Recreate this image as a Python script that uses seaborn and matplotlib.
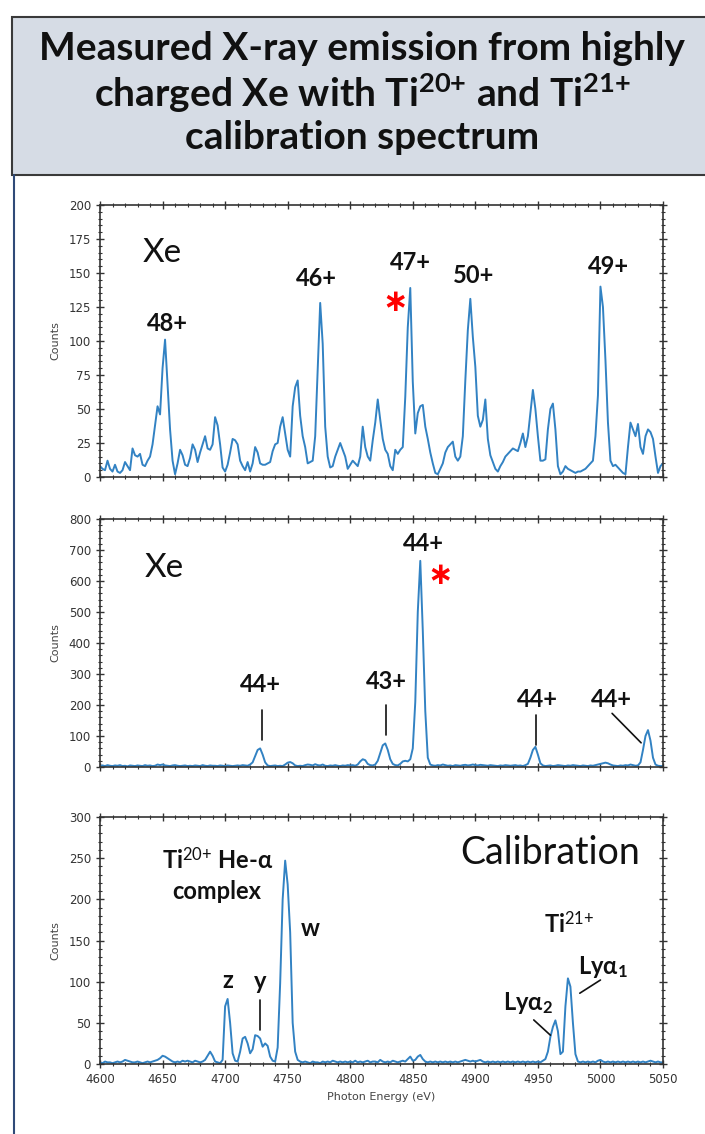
import numpy as np
import pandas as pd
import matplotlib
matplotlib.use("Agg")
import matplotlib.pyplot as plt
import seaborn as sns
from matplotlib.ticker import MultipleLocator
from matplotlib.patches import Rectangle
from matplotlib.lines import Line2D

# ---------------- data (counts per 2 eV bin, 4600..5050 eV) ----------------
energy = np.arange(4600, 5051, 2)

xe_high = [
    8, 6, 5, 12, 6, 4, 9, 4, 3, 5, 11, 8, 5, 21, 16, 15, 17, 9, 8, 12, 15, 24, 38, 52, 46,
    80, 101, 68, 35, 12, 2, 10, 20, 16, 9, 8, 14, 24, 20, 11, 18, 24, 30, 21, 20, 24, 44, 38, 24, 7,
    4, 9, 18, 28, 27, 24, 12, 8, 5, 11, 4, 10, 22, 18, 10, 9, 9, 10, 11, 19, 24, 25, 37, 44, 32,
    20, 15, 52, 66, 71, 45, 30, 22, 10, 11, 12, 30, 80, 128, 98, 37, 15, 7, 8, 15, 20, 25, 20, 15, 6,
    9, 12, 10, 8, 15, 37, 22, 15, 12, 27, 40, 57, 42, 28, 20, 17, 8, 5, 20, 17, 20, 22, 59, 110, 139,
    70, 32, 47, 52, 53, 37, 28, 18, 10, 3, 2, 6, 10, 18, 22, 24, 26, 15, 12, 15, 30, 71, 108, 131, 103,
    81, 45, 37, 42, 57, 28, 16, 11, 6, 4, 8, 11, 15, 17, 19, 21, 20, 19, 25, 32, 22, 30, 47, 64, 50,
    30, 12, 12, 13, 35, 50, 54, 35, 8, 2, 4, 8, 6, 5, 4, 3, 4, 4, 5, 6, 8, 10, 12, 30, 60,
    140, 125, 86, 40, 12, 8, 9, 7, 5, 3, 2, 22, 40, 35, 30, 39, 22, 17, 30, 35, 33, 28, 15, 3, 8,
    10,
]

xe_low = [
    4, 5, 3, 6, 4, 3, 5, 4, 6, 3, 4, 2, 5, 4, 3, 5, 4, 3, 6, 4, 5, 3, 4, 8, 6,
    8, 5, 4, 3, 5, 6, 4, 3, 4, 5, 3, 4, 3, 5, 4, 3, 6, 4, 3, 5, 4, 4, 3, 5, 4,
    3, 5, 4, 3, 4, 5, 4, 6, 5, 4, 8, 15, 35, 55, 60, 40, 15, 5, 3, 4, 5, 3, 4, 3, 8,
    14, 16, 12, 5, 3, 4, 3, 6, 8, 7, 5, 9, 6, 5, 8, 4, 3, 5, 4, 6, 4, 3, 5, 4, 6,
    5, 6, 4, 8, 18, 25, 22, 10, 6, 5, 8, 20, 45, 70, 76, 55, 25, 10, 6, 5, 10, 18, 20, 18, 25,
    60, 210, 500, 665, 440, 180, 30, 8, 5, 4, 6, 5, 8, 6, 4, 5, 3, 6, 5, 4, 6, 7, 5, 6, 8,
    6, 5, 7, 6, 5, 4, 6, 5, 4, 3, 5, 4, 6, 5, 4, 5, 6, 4, 5, 3, 6, 10, 30, 55, 65,
    40, 12, 5, 3, 4, 5, 3, 4, 6, 5, 4, 3, 5, 4, 6, 5, 4, 3, 5, 4, 3, 5, 4, 6, 8,
    10, 12, 14, 12, 8, 5, 4, 3, 5, 4, 6, 5, 8, 6, 4, 5, 15, 55, 100, 119, 85, 30, 8, 4, 3,
    3,
]

ti_cal = [
    2, 1, 3, 2, 2, 1, 2, 3, 2, 3, 5, 4, 3, 2, 2, 3, 2, 1, 2, 3, 2, 3, 4, 5, 7,
    10, 9, 7, 5, 3, 2, 3, 2, 4, 3, 4, 3, 2, 4, 3, 2, 3, 5, 10, 15, 10, 3, 2, 1, 5,
    70, 79, 50, 13, 4, 3, 15, 31, 33, 25, 13, 18, 35, 34, 31, 21, 25, 22, 9, 4, 3, 20, 98, 200, 247,
    218, 160, 50, 15, 5, 3, 2, 3, 2, 1, 3, 2, 2, 1, 3, 2, 3, 2, 4, 3, 2, 3, 2, 3, 2,
    3, 2, 4, 2, 3, 2, 3, 4, 2, 3, 3, 2, 5, 3, 2, 3, 2, 4, 3, 2, 3, 4, 3, 6, 9,
    4, 5, 9, 11, 6, 3, 2, 3, 2, 3, 2, 3, 2, 3, 2, 3, 2, 3, 2, 3, 4, 5, 4, 3, 4,
    3, 4, 5, 3, 2, 3, 2, 3, 2, 3, 2, 3, 2, 3, 2, 3, 2, 3, 2, 3, 2, 3, 2, 3, 2,
    3, 2, 4, 6, 15, 33, 45, 53, 40, 12, 15, 70, 104, 94, 50, 12, 3, 2, 3, 2, 3, 2, 3, 2, 4,
    5, 3, 2, 3, 2, 3, 2, 3, 2, 3, 2, 3, 2, 3, 2, 3, 2, 3, 2, 3, 4, 3, 2, 3, 2,
    2,
]

x_ticks = [4600, 4650, 4700, 4750, 4800, 4850, 4900, 4950, 5000, 5050]

# ---------------- style ----------------
sns.set_theme(style="ticks")
TXT = ["Lato", "DejaVu Sans"]
plt.rcParams["font.family"] = ["DejaVu Sans"]
plt.rcParams["mathtext.fontset"] = "custom"
plt.rcParams["mathtext.rm"] = "Lato"
plt.rcParams["mathtext.bf"] = "Lato:bold"
plt.rcParams["mathtext.it"] = "Lato:italic"

W, H = 705, 1134
fig = plt.figure(figsize=(W / 100, H / 100), dpi=100)
fig.patch.set_facecolor("white")

def fx(px):
    return px / W

def fy(py):
    return 1 - py / H

# title box
fig.patches.append(Rectangle((fx(12), fy(175)), 1.0, fy(17) - fy(175), transform=fig.transFigure,
                             facecolor="#d6dce5", edgecolor="#3a3a3a", linewidth=1.5, zorder=0))
fig.lines.append(Line2D([fx(14), fx(14)], [0, fy(175)], transform=fig.transFigure,
                        color="#2f4a78", linewidth=1.5))
fig.text(0.514, fy(93),
         "Measured X-ray emission from highly\ncharged Xe with Ti$^{\\mathbf{20{+}}}$ and Ti$^{\\mathbf{21{+}}}$\ncalibration spectrum",
         ha="center", va="center", fontsize=28, fontweight="bold", family=TXT, linespacing=1.17,
         color="#111111")

left, width = fx(100), fx(663) - fx(100)
ax1 = fig.add_axes([left, fy(477), width, fy(205) - fy(477)])
ax2 = fig.add_axes([left, fy(767), width, fy(519) - fy(767)])
ax3 = fig.add_axes([left, fy(1064), width, fy(817) - fy(1064)])

line_color = "#3282c3"
panels = [(ax1, xe_high, 200, 25, 5), (ax2, xe_low, 800, 100, 20), (ax3, ti_cal, 300, 50, 10)]
for ax, vals, ymax, ymaj, ymin in panels:
    df = pd.DataFrame({"Energy": energy, "Counts": vals})
    sns.lineplot(data=df, x="Energy", y="Counts", ax=ax, color=line_color, linewidth=1.4)
    ax.set_xlim(4600, 5050)
    ax.set_ylim(0, ymax)
    ax.set_xticks(x_ticks)
    ax.xaxis.set_minor_locator(MultipleLocator(10))
    ax.yaxis.set_major_locator(MultipleLocator(ymaj))
    ax.yaxis.set_minor_locator(MultipleLocator(ymin))
    ax.tick_params(which="both", direction="inout", top=True, right=True,
                   color="#333333", labelcolor="#333333", labelsize=8.5)
    ax.tick_params(which="major", length=6, width=1.0)
    ax.tick_params(which="minor", length=3, width=0.8)
    for s in ax.spines.values():
        s.set_color("#333333")
        s.set_linewidth(1.2)
    ax.set_ylabel("Counts", fontsize=8, color="#444444", labelpad=6)
    ax.set_xlabel("")

ax1.tick_params(labelbottom=False)
ax2.tick_params(labelbottom=False)
ax3.set_xlabel("Photon Energy (eV)", fontsize=8, color="#444444")

big = dict(fontsize=24, family=TXT, color="#111111")
lab = dict(fontsize=17, fontweight="bold", family=TXT, color="#111111", ha="center", va="center")
star = dict(fontsize=22, fontweight="bold", color="#ff0000", ha="center", va="center",
            family=["DejaVu Sans"])

# panel 1
ax1.text(4634, 165, "Xe", ha="left", va="center", **big)
ax1.text(4653.6, 113, "48+", **lab)
ax1.text(4773, 146, "46+", **lab)
ax1.text(4848, 158, "47+", **lab)
ax1.text(4898.8, 148.5, "50+", **lab)
ax1.text(5006.7, 154.6, "49+", **lab)
ax1.text(4836, 128, "\u2217", **star)

# panel 2
ax2.text(4636, 641, "Xe", ha="left", va="center", **big)
ax2.text(4728, 267, "44+", **lab)
ax2.text(4828.7, 275, "43+", **lab)
ax2.text(4858.7, 721, "44+", **lab)
ax2.text(4949.3, 218, "44+", **lab)
ax2.text(5009, 218, "44+", **lab)
ax2.text(4872, 618, "\u2217", **star)
for xs, ys in [([4729.3, 4729.3], [184, 87]), ([4828.8, 4828.8], [200, 103]),
               ([4948.8, 4948.8], [168, 71]), ([5009.3, 5032.5], [173, 78])]:
    ax2.plot(xs, ys, color="#111111", linewidth=1.2)

# panel 3
ax3.text(4694, 248, "Ti$^{\\mathrm{20{+}}}$ He-\u03b1", **lab)
ax3.text(4693, 209, "complex", **lab)
ax3.text(4702, 102, "z", **lab)
ax3.text(4728, 100, "y", **lab)
ax3.text(4768, 165, "w", **lab)
ax3.text(4960, 256, "Calibration", ha="center", va="center", fontsize=27, family=TXT, color="#111111")
ax3.text(4975, 171, "Ti$^{\\mathrm{21{+}}}$", **lab)
ax3.text(5001.6, 118, "Ly\u03b1$_{\\mathbf{1}}$", **lab)
ax3.text(4942, 74, "Ly\u03b1$_{\\mathbf{2}}$", **lab)
for xs, ys in [([4728, 4728], [78, 41]), ([5000, 4983.5], [102, 86]), ([4946.7, 4960], [53.5, 35])]:
    ax3.plot(xs, ys, color="#111111", linewidth=1.2)

fig.savefig("out.png", dpi=100, facecolor="white")
